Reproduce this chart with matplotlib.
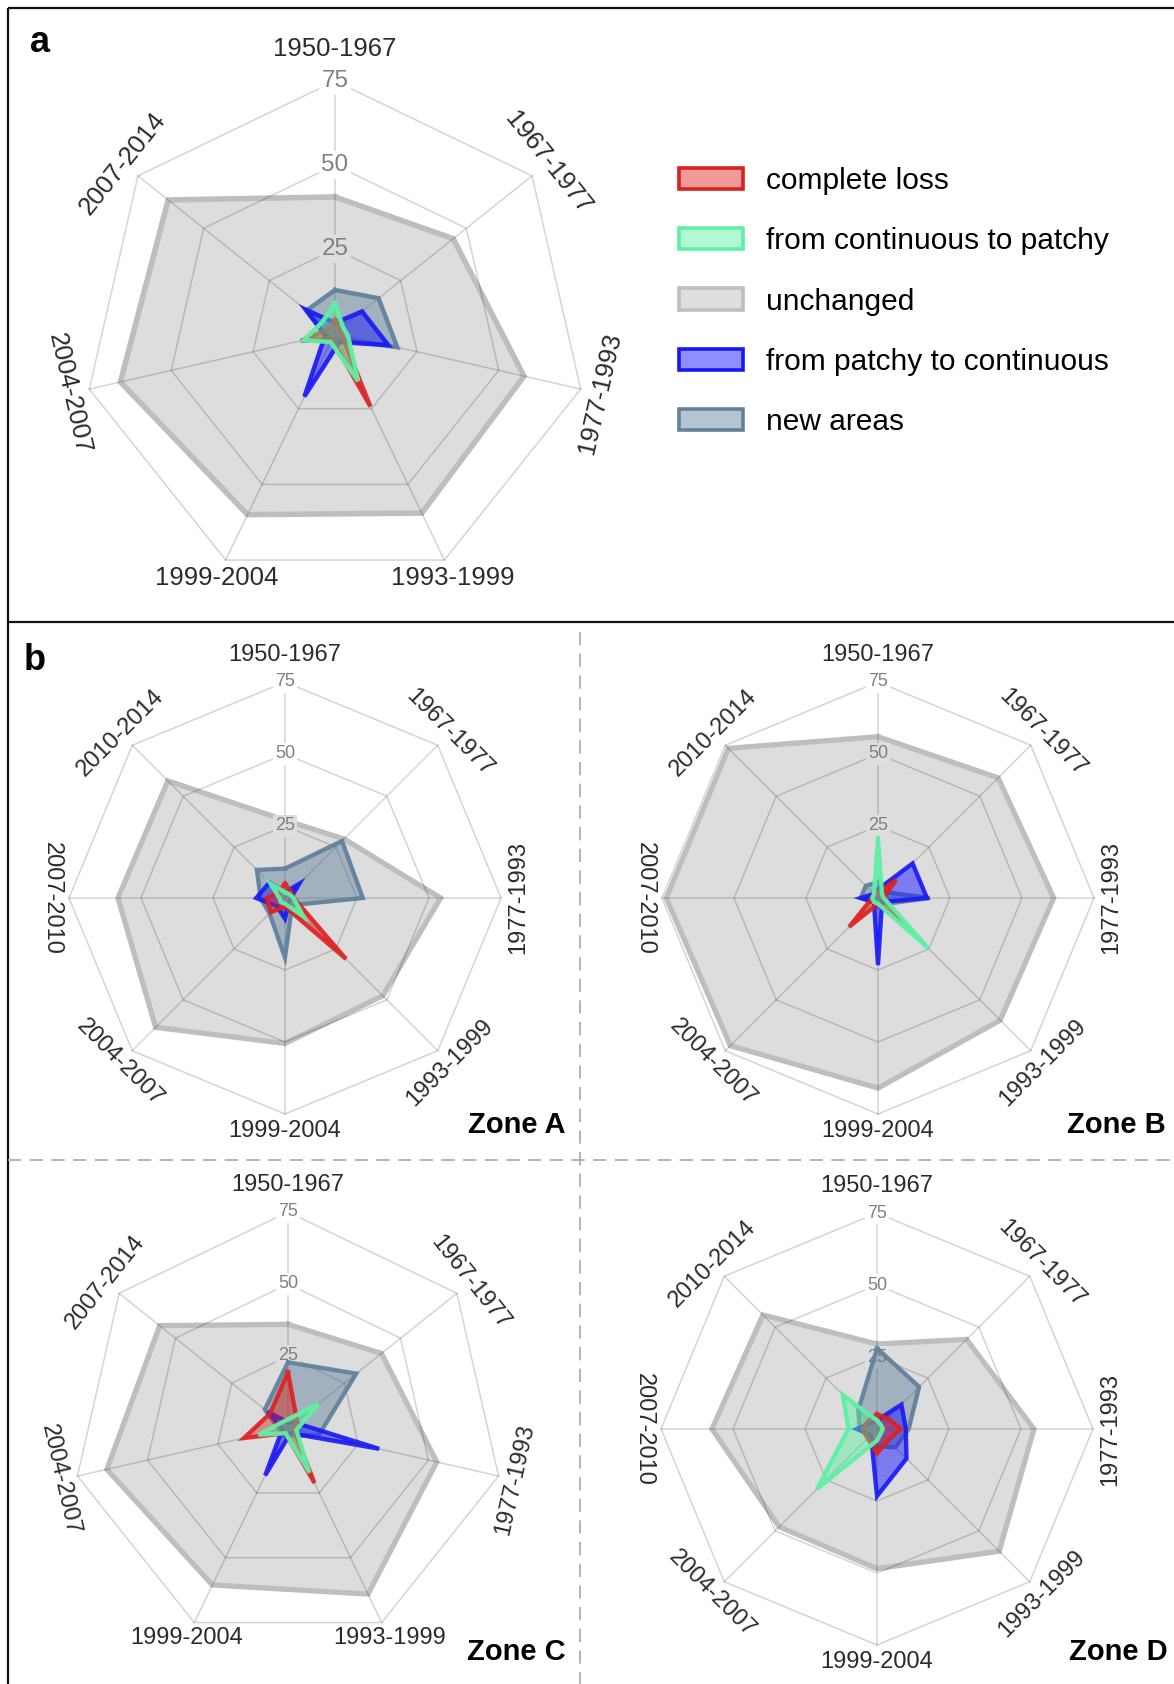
import numpy as np
import matplotlib
matplotlib.use('Agg')
import matplotlib.pyplot as plt
from matplotlib.patches import Patch
from matplotlib.colors import to_rgb, to_rgba

plt.rcParams['font.family'] = ['Liberation Sans', 'DejaVu Sans']

W, H = 1174, 1684

# ---------------- data ----------------
cats_7 = ['1950-1967', '1967-1977', '1977-1993', '1993-1999', '1999-2004', '2004-2007', '2007-2014']
cats_8 = ['1950-1967', '1967-1977', '1977-1993', '1993-1999', '1999-2004', '2004-2007', '2007-2010', '2010-2014']
ticks = [25, 50, 75]
series_names = ['complete loss', 'from continuous to patchy', 'unchanged',
                'from patchy to continuous', 'new areas']

# panel a (all zones)
a_unchanged = [40.5, 45, 57.7, 59.5, 60, 65.5, 63.5]
a_new = [12.8, 16.6, 19, 2, 2, 3, 10.8]
a_patchy_cont = [3, 10.3, 16.3, 3, 21, 3, 11.2]
a_loss = [4, 2, 2, 24.3, 2, 10.4, 2]
a_cont_patchy = [8.8, 3, 4, 15.9, 3, 9.6, 5]

# Zone A
zA_unchanged = [27, 29, 54, 48, 50.5, 63.5, 58, 57.5]
zA_new = [10.2, 28, 27, 3.5, 20.7, 7.6, 8.5, 13.8]
zA_patchy_cont = [2, 7, 2, 2, 7.2, 4, 10, 7.6]
zA_loss = [5, 3, 3, 30, 3, 7, 6.4, 3]
zA_cont_patchy = [2, 2, 3, 9, 2, 2, 2, 7.2]

# Zone B
zB_unchanged = [56, 59, 61, 60, 66, 72.5, 73.5, 73.5]
zB_new = [5.5, 3, 18, 3, 3, 2, 6, 6]
zB_patchy_cont = [3, 17, 17, 2, 23.3, 2, 6, 2]
zB_loss = [2, 8.8, 2, 12.9, 2, 14.2, 2, 2]
zB_cont_patchy = [20.6, 2, 2, 24.9, 2, 2, 2, 2]

# Zone C
zC_unchanged = [36, 41.5, 53, 64, 60.5, 64.5, 57]
zC_new = [22.8, 30.3, 11, 3, 3, 3, 10.3]
zC_patchy_cont = [2, 3, 32.5, 2, 18.3, 2, 9]
zC_loss = [19.4, 4, 2, 21.2, 2, 15.7, 8]
zC_cont_patchy = [3, 13.5, 3, 17.2, 2, 10.5, 3]

# Zone D
zD_unchanged = [29.5, 44, 54.5, 60, 48.5, 48, 57.3, 56]
zD_new = [28, 20.7, 11, 9, 6, 4, 6, 9.2]
zD_patchy_cont = [3, 12, 10, 14.5, 23.3, 3, 7, 3]
zD_loss = [5.1, 5.3, 8.3, 5.5, 8.5, 4.6, 5, 4.2]
zD_cont_patchy = [3, 2, 2, 2, 4, 29.5, 9.9, 16.8]

# ---------------- styles ----------------
STYLE = {
    'complete loss': dict(c='#e01e1e', fa=0.45, ec='#dd2020', ea=0.9, z=6),
    'from continuous to patchy': dict(c='#55f0a0', fa=0.45, ec='#60f0a4', ea=0.95, z=7),
    'unchanged': dict(c='#a8a8a8', fa=0.38, ec='#bebebe', ea=1.0, z=2),
    'from patchy to continuous': dict(c='#1c1cff', fa=0.50, ec='#1818f4', ea=0.9, z=5),
    'new areas': dict(c='#5a7c98', fa=0.45, ec='#62829c', ea=0.95, z=4),
}

fig = plt.figure(figsize=(W / 100, H / 100), dpi=100)

# background overlay for frames and panel texts
bg = fig.add_axes([0, 0, 1, 1], zorder=-10)
bg.set_xlim(0, W)
bg.set_ylim(H, 0)
bg.axis('off')
frame_kw = dict(color='#111111', lw=1.6, solid_capstyle='butt')
bg.plot([8, W], [8, 8], **frame_kw)
bg.plot([8, 8], [8, H], **frame_kw)
bg.plot([8, W], [622, 622], **frame_kw)
dash_kw = dict(color='#a8a8a8', lw=1.2, dashes=(8, 5))
bg.plot([580, 580], [632, H], **dash_kw)
bg.plot([8, W], [1160, 1160], **dash_kw)

bg.text(30, 43, 'a', fontsize=26, fontweight='bold', ha='left', va='center')
bg.text(24, 660, 'b', fontsize=26, fontweight='bold', ha='left', va='center')


def fill_bg_color():
    st = STYLE['unchanged']
    c = np.array(to_rgb(st['c']))
    return tuple((1 - st['fa']) * np.ones(3) + st['fa'] * c)


def radar(cx, cy, R, cats, data, lab_fs, tick_fs, lw_s, lw_u):
    ax = fig.add_axes([(cx - R) / W, 1 - (cy + R) / H, 2 * R / W, 2 * R / H],
                      projection='polar')
    n = len(cats)
    theta = np.arange(n) * 2 * np.pi / n
    tc = np.r_[theta, theta[0]]
    ax.set_theta_offset(np.pi / 2)
    ax.set_theta_direction(-1)
    ax.set_ylim(0, 75)
    ax.set_xticks([])
    ax.set_yticks([])
    ax.grid(False)
    ax.spines['polar'].set_visible(False)
    ax.patch.set_visible(False)

    # grid polygons and spokes
    gkw = dict(color=(0, 0, 0, 0.17), lw=1.1, zorder=3, clip_on=False)
    for t in ticks:
        ax.plot(tc, [t] * (n + 1), **gkw)
    for th in theta:
        ax.plot([th, th], [0, ticks[-1]], **gkw)

    # tick labels on the first spoke
    unch = data['unchanged']
    for t in ticks:
        fc = fill_bg_color() if unch[0] > t else 'white'
        ax.text(0, t, str(t), ha='center', va='center', fontsize=tick_fs,
                color='#808080', zorder=3.5, clip_on=False,
                bbox=dict(boxstyle='square,pad=0.12', fc=fc, ec='none'))

    # series
    for name in ['unchanged', 'new areas', 'from patchy to continuous',
                 'complete loss', 'from continuous to patchy']:
        vals = data[name]
        st = STYLE[name]
        vc = np.r_[vals, vals[0]]
        ax.fill(tc, vc, color=st['c'], alpha=st['fa'], lw=0, zorder=st['z'],
                clip_on=False)
        ax.plot(tc, vc, color=to_rgba(st['ec'], st['ea']),
                lw=(lw_u if name == 'unchanged' else lw_s),
                solid_joinstyle='miter',
                zorder=st['z'] + 0.5 if name != 'unchanged' else 2.5,
                clip_on=False)

    # category labels
    for th, lab in zip(theta, cats):
        phi = 90 - np.degrees(th)
        phi = (phi + 180) % 360 - 180
        if phi == -180:
            phi = 180
        if 0 < phi < 180:
            rot = phi - 90
        else:
            rot = phi + 90
            rot = (rot + 180) % 360 - 180
            if abs(rot) < 30:
                rot = 0
        r = 84.5 if abs(phi - 90) < 1e-6 else 81
        ax.text(th, r, lab, rotation=rot, rotation_mode='anchor',
                ha='center', va='center', fontsize=lab_fs, color='#2b2b2b',
                clip_on=False, zorder=8)
    return ax


def pack(unch, new, pc, loss, cp):
    return {'unchanged': unch, 'new areas': new, 'from patchy to continuous': pc,
            'complete loss': loss, 'from continuous to patchy': cp}


radar(335, 333, 252, cats_7,
      pack(a_unchanged, a_new, a_patchy_cont, a_loss, a_cont_patchy),
      lab_fs=18.5, tick_fs=17.5, lw_s=3.2, lw_u=4.0)
radar(285, 898, 216, cats_8,
      pack(zA_unchanged, zA_new, zA_patchy_cont, zA_loss, zA_cont_patchy),
      lab_fs=17, tick_fs=13, lw_s=3.1, lw_u=3.8)
radar(878, 898, 216, cats_8,
      pack(zB_unchanged, zB_new, zB_patchy_cont, zB_loss, zB_cont_patchy),
      lab_fs=17, tick_fs=13, lw_s=3.1, lw_u=3.8)
radar(288, 1428, 216, cats_7,
      pack(zC_unchanged, zC_new, zC_patchy_cont, zC_loss, zC_cont_patchy),
      lab_fs=17, tick_fs=13, lw_s=3.1, lw_u=3.8)
radar(877, 1429, 216, cats_8,
      pack(zD_unchanged, zD_new, zD_patchy_cont, zD_loss, zD_cont_patchy),
      lab_fs=17, tick_fs=13, lw_s=3.1, lw_u=3.8)

zkw = dict(fontsize=21, fontweight='bold', ha='right', va='center')
bg.text(565, 1125, 'Zone A', **zkw)
bg.text(1166, 1125, 'Zone B', **zkw)
bg.text(566, 1652, 'Zone C', **zkw)
bg.text(1168, 1652, 'Zone D', **zkw)

# legend
handles = []
for name in series_names:
    st = STYLE[name]
    fc = tuple((1 - st['fa']) * np.ones(3) + st['fa'] * np.array(to_rgb(st['c'])))
    handles.append(Patch(facecolor=fc, edgecolor=st['ec'], linewidth=2.6))
fig.legend(handles, series_names, loc='upper left',
           bbox_to_anchor=(679 / W, 1 - 167 / H), frameon=False, fontsize=21.5,
           handlelength=2.15, handleheight=0.72, handletextpad=0.75,
           labelspacing=1.08, borderpad=0, borderaxespad=0)

fig.savefig('out.png', dpi=100)
